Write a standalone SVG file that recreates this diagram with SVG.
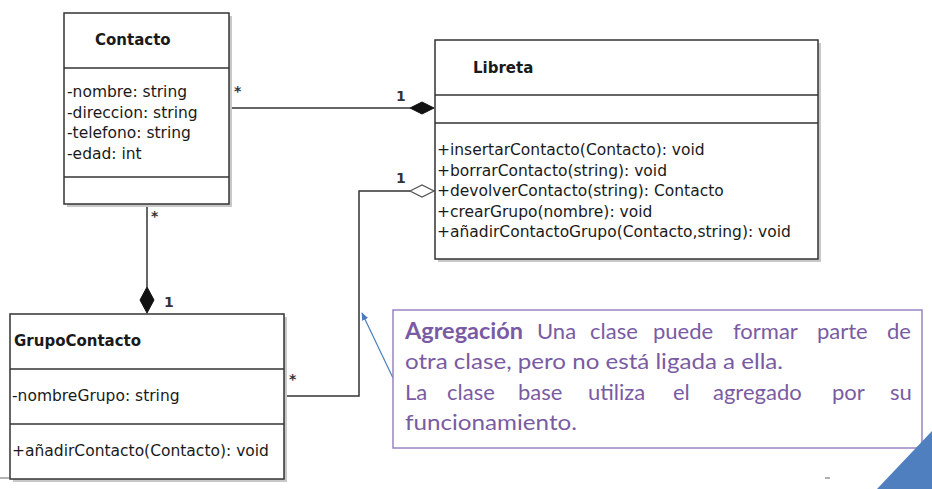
<svg xmlns="http://www.w3.org/2000/svg" width="932" height="489" viewBox="0 0 932 489">
<style>
.box{fill:#fff;stroke:#333;stroke-width:1.5}
.shadow{fill:#c8c8c8}
.div{stroke:#333;stroke-width:1.5}
.title{font-family:"DejaVu Sans",sans-serif;font-weight:bold;font-size:15px;fill:#1a1a1a}
.mem{font-family:"DejaVu Sans",sans-serif;font-size:15.5px;fill:#1a1a1a}
.mult{font-family:"DejaVu Sans",sans-serif;font-size:14px;font-weight:bold;fill:#333}
.conn{fill:none;stroke:#333;stroke-width:1.5}
.note{font-family:Lato,"Open Sans",sans-serif;font-size:22px;fill:#7a5ba3}
</style>
<defs>
<marker id="arr" viewBox="0 0 10 10" refX="9" refY="5" markerWidth="8" markerHeight="8" orient="auto" markerUnits="userSpaceOnUse">
<path d="M0,1 L10,5 L0,9 z" fill="#4a7ebb"/>
</marker>
</defs>
<rect width="932" height="489" fill="#fff"/>

<g id="connectors">
<line class="conn" x1="229" y1="108" x2="410" y2="108"/>
<polygon points="410,108 422,102 434,108 422,114" fill="#111" stroke="#111" stroke-width="1"/>
<polyline class="conn" points="284,396 359,396 359,191 410,191"/>
<polygon points="410,191 422,185 434,191 422,197" fill="#fff" stroke="#555" stroke-width="1.3"/>
<line class="conn" x1="147" y1="204" x2="147" y2="287"/>
<polygon points="147,287 154,300 147,313 140,300" fill="#111" stroke="#111" stroke-width="1"/>
<text class="mult" x="234" y="96">*</text>
<text class="mult" x="396" y="101">1</text>
<text class="mult" x="396" y="183">1</text>
<text class="mult" x="289" y="384">*</text>
<text class="mult" x="151" y="221">*</text>
<text class="mult" x="164" y="307">1</text>
<line x1="393" y1="378" x2="362" y2="313" stroke="#4a7ebb" stroke-width="1.2" marker-end="url(#arr)"/>
</g>

<g id="Contacto">
<rect class="shadow" x="67" y="16" width="165" height="191"/>
<rect class="box" x="64" y="13" width="165" height="191"/>
<line class="div" x1="64" y1="68" x2="229" y2="68"/>
<line class="div" x1="64" y1="177" x2="229" y2="177"/>
<text class="title" x="95" y="45">Contacto</text>
<text class="mem" x="67" y="97">-nombre: string</text>
<text class="mem" x="67" y="118">-direccion: string</text>
<text class="mem" x="67" y="138">-telefono: string</text>
<text class="mem" x="67" y="159">-edad: int</text>
</g>

<g id="Libreta">
<rect class="shadow" x="438" y="43" width="383" height="219"/>
<rect class="box" x="435" y="40" width="383" height="219"/>
<line class="div" x1="435" y1="95" x2="818" y2="95"/>
<line class="div" x1="435" y1="123" x2="818" y2="123"/>
<text class="title" x="473" y="73">Libreta</text>
<text class="mem" x="437" y="155">+insertarContacto(Contacto): void</text>
<text class="mem" x="437" y="175.5">+borrarContacto(string): void</text>
<text class="mem" x="437" y="196">+devolverContacto(string): Contacto</text>
<text class="mem" x="437" y="216.5">+crearGrupo(nombre): void</text>
<text class="mem" x="437" y="237">+añadirContactoGrupo(Contacto,string): void</text>
</g>

<g id="GrupoContacto">
<rect class="shadow" x="13" y="317" width="274" height="165"/>
<rect class="box" x="10" y="314" width="274" height="165"/>
<line class="div" x1="10" y1="369" x2="284" y2="369"/>
<line class="div" x1="10" y1="424" x2="284" y2="424"/>
<line x1="0" y1="478" x2="10" y2="478" stroke="#666" stroke-width="1"/>
<text class="title" x="14" y="346">GrupoContacto</text>
<text class="mem" x="12" y="401">-nombreGrupo: string</text>
<text class="mem" x="12" y="456">+añadirContacto(Contacto): void</text>
</g>

<g id="nota">
<rect x="393" y="310" width="529" height="138" fill="#fff" stroke="#9a84c2" stroke-width="1.5"/>
<text class="note" y="339"><tspan x="405" font-weight="bold" textLength="118" lengthAdjust="spacingAndGlyphs">Agregación</tspan><tspan x="537">Una</tspan><tspan x="590">clase</tspan><tspan x="653">puede</tspan><tspan x="733">formar</tspan><tspan x="817">parte</tspan><tspan x="887">de</tspan></text>
<text class="note" x="405" y="369" textLength="378" lengthAdjust="spacingAndGlyphs">otra clase, pero no está ligada a ella.</text>
<text class="note" y="400"><tspan x="405">La</tspan><tspan x="447">clase</tspan><tspan x="518">base</tspan><tspan x="588">utiliza</tspan><tspan x="673">el</tspan><tspan x="713">agregado</tspan><tspan x="832">por</tspan><tspan x="890">su</tspan></text>
<text class="note" x="405" y="430" textLength="172" lengthAdjust="spacingAndGlyphs">funcionamiento.</text>
</g>

<g id="decor">
<polygon points="877,489 932,431 932,489" fill="#4f7fbe"/>
<line x1="825" y1="478" x2="830" y2="478" stroke="#999" stroke-width="1.5"/>
</g>
</svg>
